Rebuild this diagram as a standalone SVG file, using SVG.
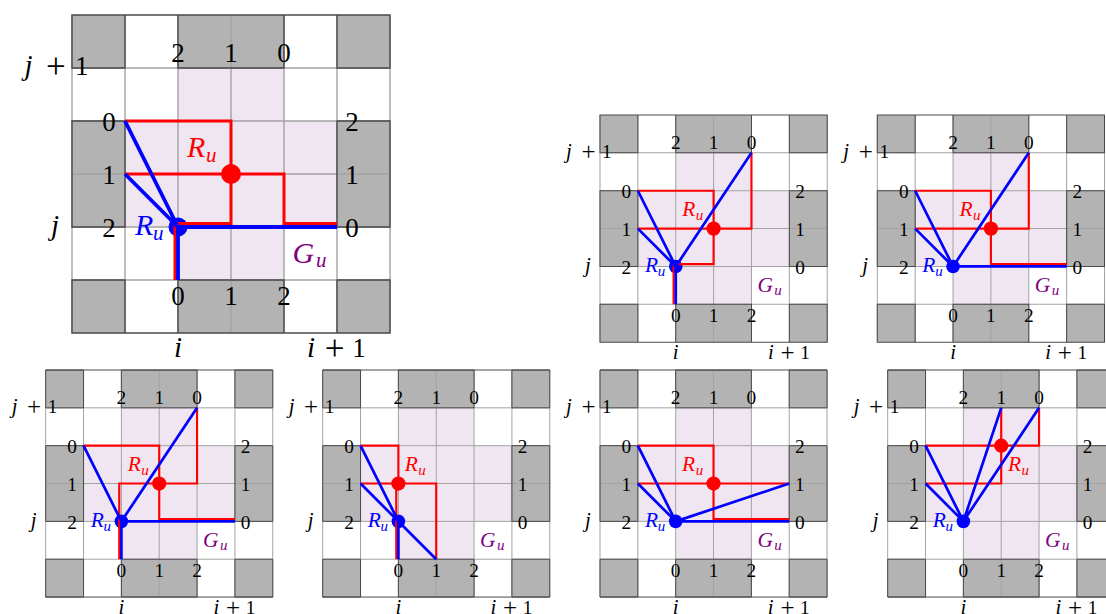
<svg xmlns="http://www.w3.org/2000/svg" width="1106" height="614" viewBox="0 0 1106 614">
<style>
.gl{fill:none;stroke:#a3a3a3;stroke-width:1.4}
.gb{fill:none;stroke:#4a4a4a;stroke-width:1.4}
.gc{fill:#b3b3b3}
.pk{fill:#f0e6f2}
.t{font-family:'Liberation Serif',serif;font-size:27px;text-anchor:middle;fill:#000}
.ti{font-style:italic;font-size:29px}
.m{font-family:'Liberation Serif',serif;font-style:italic;font-size:30px}
.rd{fill:none;stroke:#ff0000;stroke-width:3;stroke-linejoin:miter}
.bl{fill:none;stroke:#0000ff;stroke-width:3.8}
.rdot{fill:#ff0000}
.bdot{fill:#0000ff}
</style>

<g id="panel1" transform="translate(72,15)">
<rect width="318" height="318" fill="#fff"/>
<path class="pk" d="M106,53H212V106H265V212H212V265H106V212H53V106H106Z"/>
<path class="gc" d="M0,0h53v53h-53z M106,0h106v53h-106z M265,0h53v53h-53z M0,106h53v106h-53z M265,106h53v106h-53z M0,265h53v53h-53z M106,265h106v53h-106z M265,265h53v53h-53z"/>
<path class="gl" d="M0,0V318M53,0V318M106,0V318M159,0V318M212,0V318M265,0V318M318,0V318M0,53H318M0,106H318M0,159H318M0,212H318M0,265H318" stroke-width="1"/>
<path class="gb" d="M0,0h53v53h-53z M106,0h106v53h-106z M265,0h53v53h-53z M0,106h53v106h-53z M265,106h53v106h-53z M0,265h53v53h-53z M106,265h106v53h-106z M265,265h53v53h-53z M0,0H318M0,318H318" stroke-width="1"/>
<text class="t" x="106" y="47">2</text><text class="t" x="159" y="47">1</text><text class="t" x="212" y="47">0</text>
<text class="t" x="106" y="290">0</text><text class="t" x="159" y="290">1</text><text class="t" x="212" y="290">2</text>
<text class="t" x="37" y="116">0</text><text class="t" x="37" y="169">1</text><text class="t" x="37" y="222">2</text>
<text class="t" x="280" y="116">2</text><text class="t" x="280" y="169">1</text><text class="t" x="280" y="222">0</text>
<text class="t" y="60"><tspan x="-43.6" class="ti">j</tspan><tspan x="-16.2" y="62.5" font-size="35">+</tspan><tspan x="9.7" y="60">1</tspan></text>
<text class="t ti" x="-17" y="220">j</text>
<text class="t ti" x="106" y="342">i</text>
<text class="t" y="342"><tspan x="239" class="ti">i</tspan><tspan x="262.5" y="344.5" font-size="35">+</tspan><tspan x="287" y="342">1</tspan></text>
<text class="m" fill="#800080" x="220.5" y="248.3">G<tspan x="244" y="251.7" font-size="21">u</tspan></text>
<text class="m" fill="#0000ff" x="63" y="220">R<tspan x="81" y="225" font-size="21">u</tspan></text>
<circle class="bdot" cx="106" cy="212" r="9.5"/>
<g id="connectors1">
<path class="rd" d="M53,106H159V208.5H103V265"/>
<path class="rd" d="M53,159H212V208.5H265"/>
<path class="bl" d="M106,212L53,106M106,212L53,159M106,265V212H265"/>
</g>
<circle class="rdot" cx="159" cy="159" r="10"/>
<text class="m" fill="#ff0000" x="115" y="142">R<tspan x="134" y="147" font-size="21">u</tspan></text>
</g>

<g id="panel2" transform="translate(600,115) scale(0.7145)">
<rect width="318" height="318" fill="#fff"/>
<path class="pk" d="M106,53H212V106H265V212H212V265H106V212H53V106H106Z"/>
<path class="gc" d="M0,0h53v53h-53z M106,0h106v53h-106z M265,0h53v53h-53z M0,106h53v106h-53z M265,106h53v106h-53z M0,265h53v53h-53z M106,265h106v53h-106z M265,265h53v53h-53z"/>
<path class="gl" d="M0,0V318M53,0V318M106,0V318M159,0V318M212,0V318M265,0V318M318,0V318M0,53H318M0,106H318M0,159H318M0,212H318M0,265H318"/>
<path class="gb" d="M0,0h53v53h-53z M106,0h106v53h-106z M265,0h53v53h-53z M0,106h53v106h-53z M265,106h53v106h-53z M0,265h53v53h-53z M106,265h106v53h-106z M265,265h53v53h-53z M0,0H318M0,318H318"/>
<text class="t" x="106" y="47">2</text><text class="t" x="159" y="47">1</text><text class="t" x="212" y="47">0</text>
<text class="t" x="106" y="290">0</text><text class="t" x="159" y="290">1</text><text class="t" x="212" y="290">2</text>
<text class="t" x="37" y="116">0</text><text class="t" x="37" y="169">1</text><text class="t" x="37" y="222">2</text>
<text class="t" x="280" y="116">2</text><text class="t" x="280" y="169">1</text><text class="t" x="280" y="222">0</text>
<text class="t" y="60"><tspan x="-43.6" class="ti">j</tspan><tspan x="-16.2" y="62.5" font-size="35">+</tspan><tspan x="9.7" y="60">1</tspan></text>
<text class="t ti" x="-17" y="220">j</text>
<text class="t ti" x="106" y="342">i</text>
<text class="t" y="342"><tspan x="239" class="ti">i</tspan><tspan x="262.5" y="344.5" font-size="35">+</tspan><tspan x="287" y="342">1</tspan></text>
<text class="m" fill="#800080" x="220.5" y="248.3">G<tspan x="244" y="251.7" font-size="21">u</tspan></text>
<text class="m" fill="#0000ff" x="63" y="220">R<tspan x="81" y="225" font-size="21">u</tspan></text>
<circle class="bdot" cx="106" cy="212" r="9.5"/>
<g id="connectors2">
<path class="rd" d="M53,106H159V208.8H103V265"/>
<path class="rd" d="M53,159H212V53"/>
<path class="bl" d="M106,212L53,106M106,212L53,159M106,212L212,53M106,265V212"/>
</g>
<circle class="rdot" cx="159" cy="159" r="10"/>
<text class="m" fill="#ff0000" x="115" y="142">R<tspan x="134" y="147" font-size="21">u</tspan></text>
</g>

<g id="panel3" transform="translate(877.3,115) scale(0.7145)">
<rect width="318" height="318" fill="#fff"/>
<path class="pk" d="M106,53H212V106H265V212H212V265H106V212H53V106H106Z"/>
<path class="gc" d="M0,0h53v53h-53z M106,0h106v53h-106z M265,0h53v53h-53z M0,106h53v106h-53z M265,106h53v106h-53z M0,265h53v53h-53z M106,265h106v53h-106z M265,265h53v53h-53z"/>
<path class="gl" d="M0,0V318M53,0V318M106,0V318M159,0V318M212,0V318M265,0V318M318,0V318M0,53H318M0,106H318M0,159H318M0,212H318M0,265H318"/>
<path class="gb" d="M0,0h53v53h-53z M106,0h106v53h-106z M265,0h53v53h-53z M0,106h53v106h-53z M265,106h53v106h-53z M0,265h53v53h-53z M106,265h106v53h-106z M265,265h53v53h-53z M0,0H318M0,318H318"/>
<text class="t" x="106" y="47">2</text><text class="t" x="159" y="47">1</text><text class="t" x="212" y="47">0</text>
<text class="t" x="106" y="290">0</text><text class="t" x="159" y="290">1</text><text class="t" x="212" y="290">2</text>
<text class="t" x="37" y="116">0</text><text class="t" x="37" y="169">1</text><text class="t" x="37" y="222">2</text>
<text class="t" x="280" y="116">2</text><text class="t" x="280" y="169">1</text><text class="t" x="280" y="222">0</text>
<text class="t" y="60"><tspan x="-43.6" class="ti">j</tspan><tspan x="-16.2" y="62.5" font-size="35">+</tspan><tspan x="9.7" y="60">1</tspan></text>
<text class="t ti" x="-17" y="220">j</text>
<text class="t ti" x="106" y="342">i</text>
<text class="t" y="342"><tspan x="239" class="ti">i</tspan><tspan x="262.5" y="344.5" font-size="35">+</tspan><tspan x="287" y="342">1</tspan></text>
<text class="m" fill="#800080" x="220.5" y="248.3">G<tspan x="244" y="251.7" font-size="21">u</tspan></text>
<text class="m" fill="#0000ff" x="63" y="220">R<tspan x="81" y="225" font-size="21">u</tspan></text>
<circle class="bdot" cx="106" cy="212" r="9.5"/>
<g id="connectors3">
<path class="rd" d="M53,106H159V208.8H265"/>
<path class="rd" d="M53,159H212V53"/>
<path class="bl" d="M106,212L53,106M106,212L53,159M106,212L212,53M106,212H265"/>
</g>
<circle class="rdot" cx="159" cy="159" r="10"/>
<text class="m" fill="#ff0000" x="115" y="142">R<tspan x="134" y="147" font-size="21">u</tspan></text>
</g>

<g id="panel4" transform="translate(45.7,370) scale(0.714)">
<rect width="318" height="318" fill="#fff"/>
<path class="pk" d="M106,53H212V106H265V212H212V265H106V212H53V106H106Z"/>
<path class="gc" d="M0,0h53v53h-53z M106,0h106v53h-106z M265,0h53v53h-53z M0,106h53v106h-53z M265,106h53v106h-53z M0,265h53v53h-53z M106,265h106v53h-106z M265,265h53v53h-53z"/>
<path class="gl" d="M0,0V318M53,0V318M106,0V318M159,0V318M212,0V318M265,0V318M318,0V318M0,53H318M0,106H318M0,159H318M0,212H318M0,265H318"/>
<path class="gb" d="M0,0h53v53h-53z M106,0h106v53h-106z M265,0h53v53h-53z M0,106h53v106h-53z M265,106h53v106h-53z M0,265h53v53h-53z M106,265h106v53h-106z M265,265h53v53h-53z M0,0H318M0,318H318"/>
<text class="t" x="106" y="47">2</text><text class="t" x="159" y="47">1</text><text class="t" x="212" y="47">0</text>
<text class="t" x="106" y="290">0</text><text class="t" x="159" y="290">1</text><text class="t" x="212" y="290">2</text>
<text class="t" x="37" y="116">0</text><text class="t" x="37" y="169">1</text><text class="t" x="37" y="222">2</text>
<text class="t" x="280" y="116">2</text><text class="t" x="280" y="169">1</text><text class="t" x="280" y="222">0</text>
<text class="t" y="60"><tspan x="-43.6" class="ti">j</tspan><tspan x="-16.2" y="62.5" font-size="35">+</tspan><tspan x="9.7" y="60">1</tspan></text>
<text class="t ti" x="-17" y="220">j</text>
<text class="t ti" x="106" y="342">i</text>
<text class="t" y="342"><tspan x="239" class="ti">i</tspan><tspan x="262.5" y="344.5" font-size="35">+</tspan><tspan x="287" y="342">1</tspan></text>
<text class="m" fill="#800080" x="220.5" y="248.3">G<tspan x="244" y="251.7" font-size="21">u</tspan></text>
<text class="m" fill="#0000ff" x="63" y="220">R<tspan x="81" y="225" font-size="21">u</tspan></text>
<circle class="bdot" cx="106" cy="212" r="9.5"/>
<g id="connectors4">
<path class="rd" d="M53,106H159V208.8H265"/>
<path class="rd" d="M103,265V159H212V53"/>
<path class="bl" d="M106,212L53,106M106,212L212,53M106,265V212H265"/>
</g>
<circle class="rdot" cx="159" cy="159" r="10"/>
<text class="m" fill="#ff0000" x="115" y="142">R<tspan x="134" y="147" font-size="21">u</tspan></text>
</g>

<g id="panel5" transform="translate(322.7,370) scale(0.714)">
<rect width="318" height="318" fill="#fff"/>
<path class="pk" d="M106,53H212V106H265V212H212V265H106V212H53V106H106Z"/>
<path class="gc" d="M0,0h53v53h-53z M106,0h106v53h-106z M265,0h53v53h-53z M0,106h53v106h-53z M265,106h53v106h-53z M0,265h53v53h-53z M106,265h106v53h-106z M265,265h53v53h-53z"/>
<path class="gl" d="M0,0V318M53,0V318M106,0V318M159,0V318M212,0V318M265,0V318M318,0V318M0,53H318M0,106H318M0,159H318M0,212H318M0,265H318"/>
<path class="gb" d="M0,0h53v53h-53z M106,0h106v53h-106z M265,0h53v53h-53z M0,106h53v106h-53z M265,106h53v106h-53z M0,265h53v53h-53z M106,265h106v53h-106z M265,265h53v53h-53z M0,0H318M0,318H318"/>
<text class="t" x="106" y="47">2</text><text class="t" x="159" y="47">1</text><text class="t" x="212" y="47">0</text>
<text class="t" x="106" y="290">0</text><text class="t" x="159" y="290">1</text><text class="t" x="212" y="290">2</text>
<text class="t" x="37" y="116">0</text><text class="t" x="37" y="169">1</text><text class="t" x="37" y="222">2</text>
<text class="t" x="280" y="116">2</text><text class="t" x="280" y="169">1</text><text class="t" x="280" y="222">0</text>
<text class="t" y="60"><tspan x="-43.6" class="ti">j</tspan><tspan x="-16.2" y="62.5" font-size="35">+</tspan><tspan x="9.7" y="60">1</tspan></text>
<text class="t ti" x="-17" y="220">j</text>
<text class="t ti" x="106" y="342">i</text>
<text class="t" y="342"><tspan x="239" class="ti">i</tspan><tspan x="262.5" y="344.5" font-size="35">+</tspan><tspan x="287" y="342">1</tspan></text>
<text class="m" fill="#800080" x="220.5" y="248.3">G<tspan x="244" y="251.7" font-size="21">u</tspan></text>
<text class="m" fill="#0000ff" x="63" y="220">R<tspan x="81" y="225" font-size="21">u</tspan></text>
<circle class="bdot" cx="106" cy="212" r="9.5"/>
<g id="connectors5">
<path class="rd" d="M53,106H106V159"/>
<path class="rd" d="M103,159V265"/>
<path class="rd" d="M53,159H159V265"/>
<path class="bl" d="M53,106L106,212M53,159L159,265M106,212V265"/>
</g>
<circle class="rdot" cx="106" cy="159" r="10"/>
<text class="m" fill="#ff0000" x="115" y="142">R<tspan x="134" y="147" font-size="21">u</tspan></text>
</g>

<g id="panel6" transform="translate(600,370) scale(0.714)">
<rect width="318" height="318" fill="#fff"/>
<path class="pk" d="M106,53H212V106H265V212H212V265H106V212H53V106H106Z"/>
<path class="gc" d="M0,0h53v53h-53z M106,0h106v53h-106z M265,0h53v53h-53z M0,106h53v106h-53z M265,106h53v106h-53z M0,265h53v53h-53z M106,265h106v53h-106z M265,265h53v53h-53z"/>
<path class="gl" d="M0,0V318M53,0V318M106,0V318M159,0V318M212,0V318M265,0V318M318,0V318M0,53H318M0,106H318M0,159H318M0,212H318M0,265H318"/>
<path class="gb" d="M0,0h53v53h-53z M106,0h106v53h-106z M265,0h53v53h-53z M0,106h53v106h-53z M265,106h53v106h-53z M0,265h53v53h-53z M106,265h106v53h-106z M265,265h53v53h-53z M0,0H318M0,318H318"/>
<text class="t" x="106" y="47">2</text><text class="t" x="159" y="47">1</text><text class="t" x="212" y="47">0</text>
<text class="t" x="106" y="290">0</text><text class="t" x="159" y="290">1</text><text class="t" x="212" y="290">2</text>
<text class="t" x="37" y="116">0</text><text class="t" x="37" y="169">1</text><text class="t" x="37" y="222">2</text>
<text class="t" x="280" y="116">2</text><text class="t" x="280" y="169">1</text><text class="t" x="280" y="222">0</text>
<text class="t" y="60"><tspan x="-43.6" class="ti">j</tspan><tspan x="-16.2" y="62.5" font-size="35">+</tspan><tspan x="9.7" y="60">1</tspan></text>
<text class="t ti" x="-17" y="220">j</text>
<text class="t ti" x="106" y="342">i</text>
<text class="t" y="342"><tspan x="239" class="ti">i</tspan><tspan x="262.5" y="344.5" font-size="35">+</tspan><tspan x="287" y="342">1</tspan></text>
<text class="m" fill="#800080" x="220.5" y="248.3">G<tspan x="244" y="251.7" font-size="21">u</tspan></text>
<text class="m" fill="#0000ff" x="63" y="220">R<tspan x="81" y="225" font-size="21">u</tspan></text>
<circle class="bdot" cx="106" cy="212" r="9.5"/>
<g id="connectors6">
<path class="rd" d="M53,106H159V208.8H265"/>
<path class="rd" d="M53,159H265"/>
<path class="bl" d="M106,212L53,106M106,212L53,159M106,212L265,159M106,212H265"/>
</g>
<circle class="rdot" cx="159" cy="159" r="10"/>
<text class="m" fill="#ff0000" x="115" y="142">R<tspan x="134" y="147" font-size="21">u</tspan></text>
</g>

<g id="panel7" transform="translate(887.7,370) scale(0.714)">
<rect width="318" height="318" fill="#fff"/>
<path class="pk" d="M106,53H212V106H265V212H212V265H106V212H53V106H106Z"/>
<path class="gc" d="M0,0h53v53h-53z M106,0h106v53h-106z M265,0h53v53h-53z M0,106h53v106h-53z M265,106h53v106h-53z M0,265h53v53h-53z M106,265h106v53h-106z M265,265h53v53h-53z"/>
<path class="gl" d="M0,0V318M53,0V318M106,0V318M159,0V318M212,0V318M265,0V318M318,0V318M0,53H318M0,106H318M0,159H318M0,212H318M0,265H318"/>
<path class="gb" d="M0,0h53v53h-53z M106,0h106v53h-106z M265,0h53v53h-53z M0,106h53v106h-53z M265,106h53v106h-53z M0,265h53v53h-53z M106,265h106v53h-106z M265,265h53v53h-53z M0,0H318M0,318H318"/>
<text class="t" x="106" y="47">2</text><text class="t" x="159" y="47">1</text><text class="t" x="212" y="47">0</text>
<text class="t" x="106" y="290">0</text><text class="t" x="159" y="290">1</text><text class="t" x="212" y="290">2</text>
<text class="t" x="37" y="116">0</text><text class="t" x="37" y="169">1</text><text class="t" x="37" y="222">2</text>
<text class="t" x="280" y="116">2</text><text class="t" x="280" y="169">1</text><text class="t" x="280" y="222">0</text>
<text class="t" y="60"><tspan x="-43.6" class="ti">j</tspan><tspan x="-16.2" y="62.5" font-size="35">+</tspan><tspan x="9.7" y="60">1</tspan></text>
<text class="t ti" x="-17" y="220">j</text>
<text class="t ti" x="106" y="342">i</text>
<text class="t" y="342"><tspan x="239" class="ti">i</tspan><tspan x="262.5" y="344.5" font-size="35">+</tspan><tspan x="287" y="342">1</tspan></text>
<text class="m" fill="#800080" x="220.5" y="248.3">G<tspan x="244" y="251.7" font-size="21">u</tspan></text>
<text class="m" fill="#0000ff" x="63" y="220">R<tspan x="81" y="225" font-size="21">u</tspan></text>
<circle class="bdot" cx="106" cy="212" r="9.5"/>
<g id="connectors7">
<path class="rd" d="M53,106H212V53"/>
<path class="rd" d="M159,53V159H53"/>
<path class="bl" d="M106,212L53,106M106,212L53,159M106,212L159,53M106,212L212,53"/>
</g>
<circle class="rdot" cx="159" cy="106" r="10"/>
<text class="m" fill="#ff0000" x="168.5" y="142">R<tspan x="187.5" y="147" font-size="21">u</tspan></text>
</g>
</svg>
